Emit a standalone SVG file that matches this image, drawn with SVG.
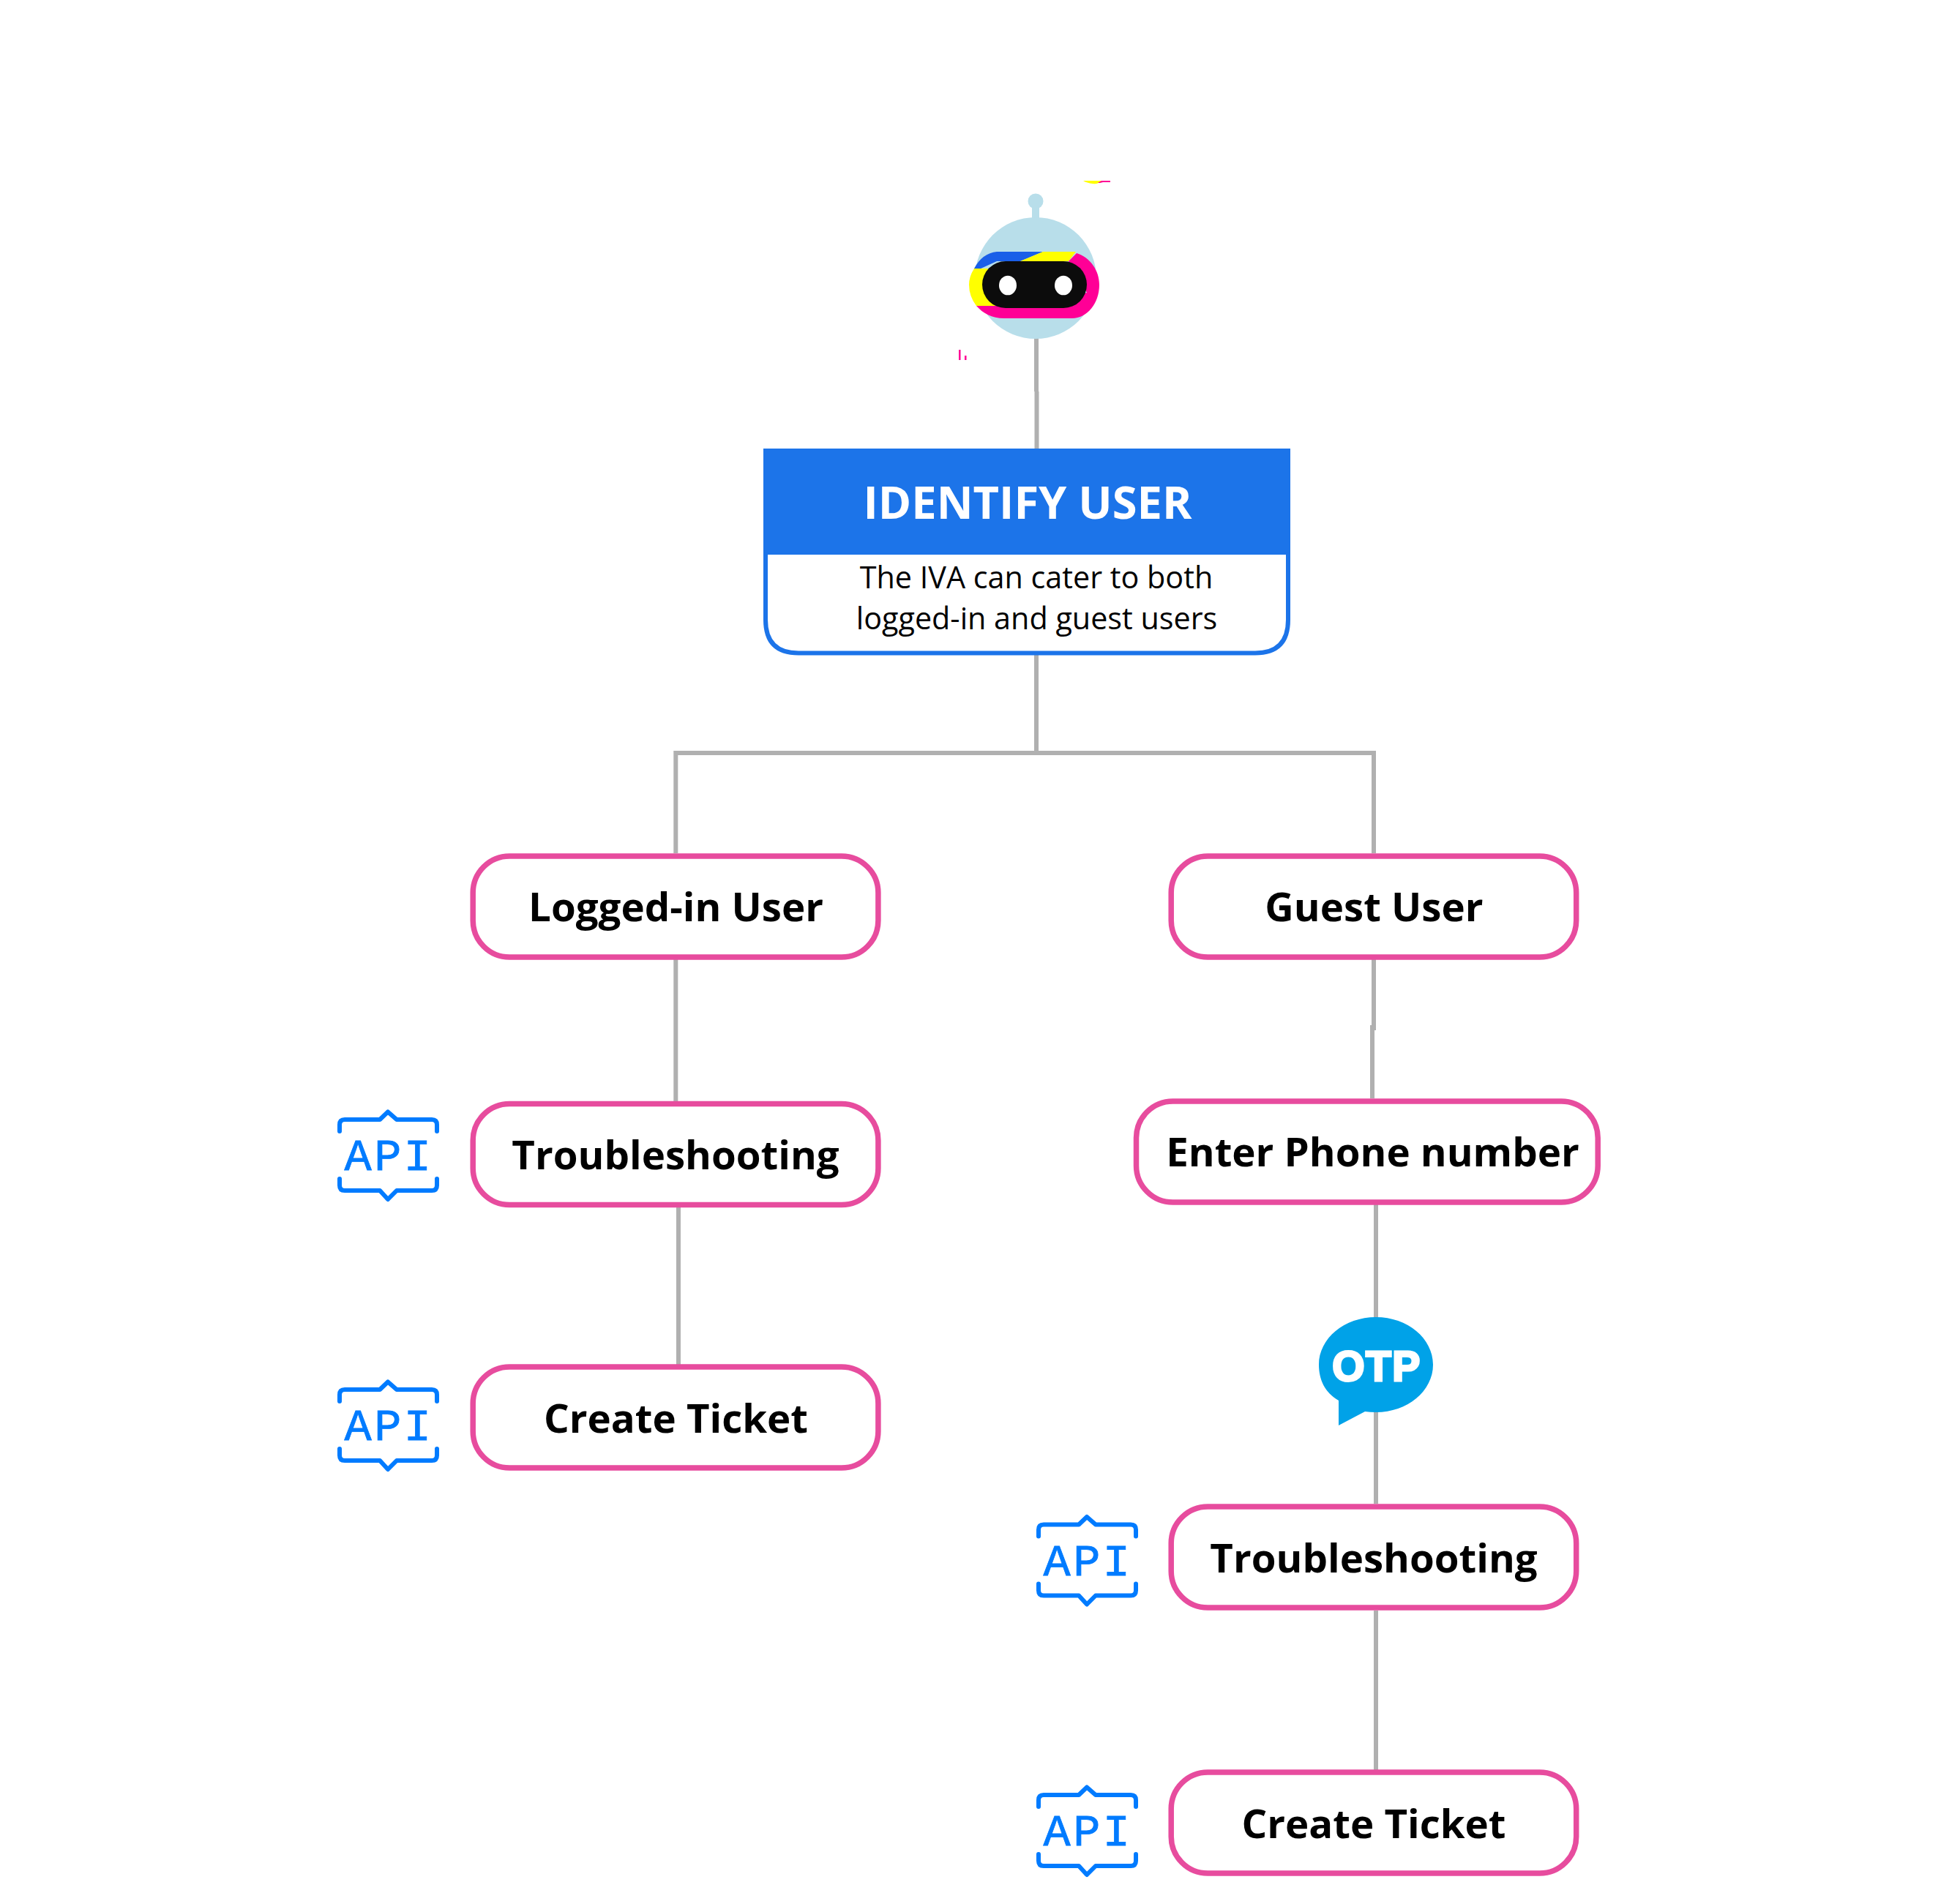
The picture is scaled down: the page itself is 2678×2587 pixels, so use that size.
<svg xmlns="http://www.w3.org/2000/svg" width="2678" height="2587" viewBox="0 0 2678 2587">
<style>
.c{fill:none;stroke:#b0b0b0;stroke-width:6}
.n{fill:#fff;stroke:#e74c9e;stroke-width:7.5}
.t{font-family:"Open Sans","Liberation Sans",sans-serif;font-weight:700;font-size:54.6px;fill:#000;text-anchor:middle}
.s{font-family:"Open Sans","Liberation Sans",sans-serif;font-size:41.3px;fill:#000;text-anchor:middle}
.a{font-family:"Liberation Mono",monospace;font-size:62px;letter-spacing:3.5px;fill:#007bff;stroke:#007bff;stroke-width:.8;text-anchor:middle}
.i{fill:none;stroke:#007bff;stroke-width:6;stroke-linecap:round;stroke-linejoin:round}
</style>
<defs>
<path id="apibox" class="i" d="M464,1546V1537Q464,1530 471,1530H519L530,1519.5L542,1530H590Q597,1530 597,1537V1546M464,1611V1620Q464,1627 471,1627H519L530,1639L542,1627H590Q597,1627 597,1620V1611"/>
</defs>
<rect width="2678" height="2587" fill="#fff"/>
<g id="connectors">
<path class="c" d="M1416,462V535M1416.5,535V613M1416,895V1029M923.3,1166V1029H1877V1166M923.3,1311V1505M927,1650V1868M1877,1311V1408M1875,1401V1501M1880,1646V2055M1880,2201V2419"/>
</g>
<g id="robot">
<path d="M1480,247H1507Q1500,252 1493,251Q1485,250 1480,247Z" fill="#ffff00"/>
<path d="M1500,250L1505,247H1517V249H1507L1503,250Z" fill="#ff0096"/>
<rect x="1310" y="478" width="2.5" height="14" fill="#ff0096"/>
<rect x="1318" y="486" width="2.5" height="6" fill="#ff0096"/>
<circle cx="1415" cy="275" r="10.5" fill="#b8deea"/>
<rect x="1410" y="280" width="10" height="20" fill="#b8deea"/>
<circle cx="1415" cy="380" r="83" fill="#b8deea"/>
<path d="M1331,367Q1342,346 1362,344H1425L1394,357H1362L1340,367Z" fill="#1a5fe8"/>
<path d="M1425,344H1470L1460,357H1394Z" fill="#ffff00"/>
<path d="M1331,367Q1324,378 1324,389Q1324,405 1334,418H1360L1350,367Z" fill="#ffff00"/>
<path d="M1471,346C1490,352 1502,370 1502,389C1502,415 1485,435 1465,435H1372C1355,435 1343,428 1334,418H1400L1485,400L1460,357Z" fill="#ff0096"/>
<rect x="1342" y="357" width="143" height="64" rx="32" fill="#0c0c0c"/>
<ellipse cx="1377" cy="390" rx="12" ry="13.3" fill="#fff"/>
<ellipse cx="1453" cy="390" rx="12" ry="13.3" fill="#fff"/>
</g>
<g id="identify-user">
<path d="M1046,750H1760V847Q1760,892.5 1715,892.5H1091Q1046,892.5 1046,847Z" fill="#fff" stroke="#1c74e9" stroke-width="6"/>
<rect x="1043" y="613" width="720" height="145" fill="#1c74e9"/>
<text x="1404" y="709" font-family="'Open Sans','Liberation Sans',sans-serif" font-weight="700" font-size="61.4" fill="#fff" text-anchor="middle">IDENTIFY USER</text>
<text class="s" x="1416" y="804">The IVA can cater to both</text>
<text class="s" x="1416.5" y="860">logged-in and guest users</text>
</g>
<g id="logged-in-user"><rect class="n" x="646.2" y="1170" width="553.7" height="138" rx="50"/><text class="t" x="923.5" y="1258.5">Logged-in User</text></g>
<g id="guest-user"><rect class="n" x="1600.2" y="1170" width="553.5" height="138" rx="50"/><text class="t" x="1877.4" y="1258.5">Guest User</text></g>
<g id="troubleshooting-left"><rect class="n" x="646.2" y="1508.5" width="553.7" height="138" rx="50"/><text class="t" x="923" y="1597.5">Troubleshooting</text></g>
<g id="enter-phone"><rect class="n" x="1552.5" y="1505" width="630.7" height="138" rx="50"/><text class="t" x="1875.5" y="1593.5">Enter Phone number</text></g>
<g id="create-ticket-left"><rect class="n" x="646.2" y="1868" width="553.7" height="138" rx="50"/><text class="t" x="923.5" y="1957.5">Create Ticket</text></g>
<g id="troubleshooting-right"><rect class="n" x="1600.2" y="2059" width="553.5" height="138" rx="50"/><text class="t" x="1877" y="2148.5">Troubleshooting</text></g>
<g id="create-ticket-right"><rect class="n" x="1600.2" y="2422" width="553.5" height="138" rx="50"/><text class="t" x="1877" y="2511.5">Create Ticket</text></g>
<g id="otp">
<path d="M1829,1914C1810,1903 1802,1885 1802,1865C1802,1829 1837,1800 1880,1800C1923,1800 1958,1829 1958,1865C1958,1901 1923,1930 1880,1930Q1872,1930 1865,1929L1829,1948Z" fill="#00a2e8"/>
<text x="1881" y="1887" font-family="'Liberation Sans',sans-serif" font-weight="700" font-size="57" letter-spacing="1.5" fill="#fff" stroke="#fff" stroke-width="3" text-anchor="middle">OTP</text>
</g>
<g id="api-1"><use href="#apibox"/><text class="a" x="531.5" y="1599">API</text></g>
<g id="api-2" transform="translate(0,369)"><use href="#apibox"/><text class="a" x="531.5" y="1599">API</text></g>
<g id="api-3" transform="translate(955,553.5)"><use href="#apibox"/><text class="a" x="531.5" y="1599">API</text></g>
<g id="api-4" transform="translate(955,923)"><use href="#apibox"/><text class="a" x="531.5" y="1599">API</text></g>
</svg>
